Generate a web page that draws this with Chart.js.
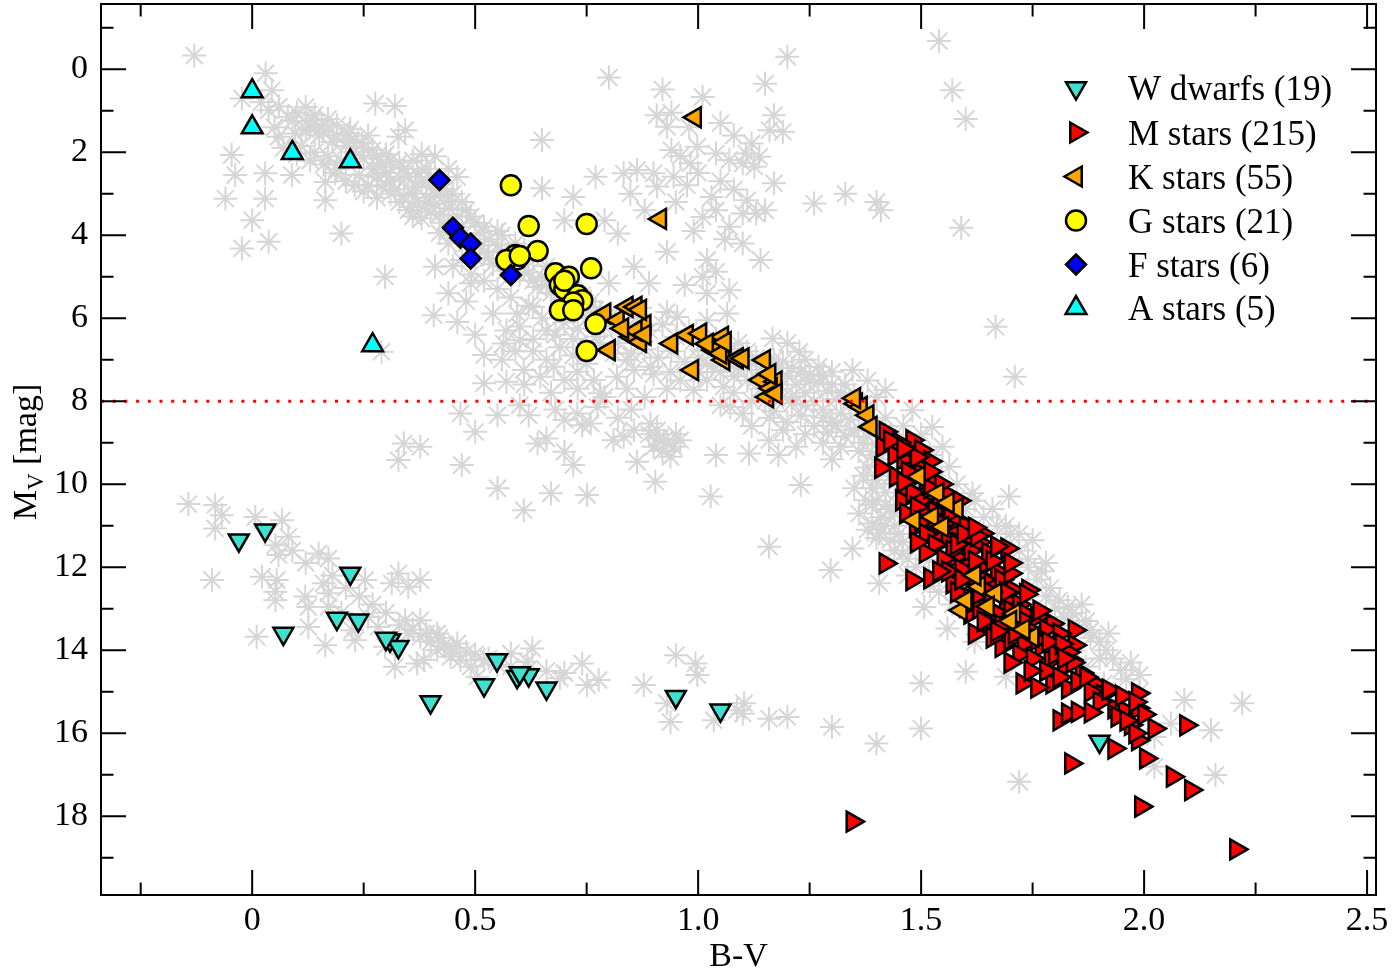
<!DOCTYPE html>
<html>
<head>
<meta charset="utf-8">
<script src="https://cdn.jsdelivr.net/npm/chart.js@4.4.0/dist/chart.umd.min.js"></script>
<style>
  html, body { margin: 0; padding: 0; background: #fff; }
  #wrap { width: 1392px; height: 973px; position: relative; }
</style>
</head>
<body>
<div id="wrap"><canvas id="hrd"></canvas></div>
<script>
// axis ranges and ticks
var xMin = -0.339, xMax = 2.52;
var yMin = -1.57, yMax = 19.9;
var xTicks = [0, 0.5, 1, 1.5, 2, 2.5];
var xMinor = [-0.25, 0.25, 0.75, 1.25, 1.75, 2.25];
var yTicks = [0, 2, 4, 6, 8, 10, 12, 14, 16, 18];
var yMinor = [-1, 1, 3, 5, 7, 9, 11, 13, 15, 17, 19];
var cutMag = 8;

// full sample (grey asterisks), [B-V, Mv]
var allStars = [
  [-0.13,-0.33],[0.03,0.10],[0.044,0.51],[-0.023,0.71],[0.276,0.83],[0.32,0.89],[0.037,0.99],[0.12,0.91],[0.08,1.15],[0.134,1.23],
  [0.156,1.39],[0.216,1.55],[0.246,1.79],[0.343,1.47],[0.328,1.63],[0.059,1.63],[-0.046,2.07],[-0.038,2.55],[0.029,2.51],[0.089,2.55],
  [-0.06,3.12],[0.029,3.12],[0.0,3.64],[-0.023,4.32],[0.037,4.16],[0.164,2.72],[0.186,2.51],[0.164,3.16],[0.20,3.96],[0.283,2.35],
  [0.29,2.83],[0.298,5.0],[0.365,2.83],[0.358,3.32],[0.126,1.31],[0.096,1.55],
  [0.10,1.05],[0.14,1.10],[0.17,1.20],[0.19,1.35],[0.12,1.45],[0.15,1.60],[0.18,1.75],[0.21,1.85],[0.11,1.85],[0.14,2.00],
  [0.17,2.10],[0.20,2.20],[0.23,2.00],[0.25,2.15],[0.27,2.40],[0.24,2.55],[0.21,2.70],[0.26,2.80],[0.28,2.60],[0.30,2.50],
  [0.31,2.70],[0.33,2.60],[0.32,2.90],[0.34,3.05],[0.36,3.00],[0.38,2.70],[0.40,2.85],[0.37,3.20],[0.39,3.10],[0.41,3.25],
  [0.43,3.05],[0.44,3.35],[0.42,3.50],[0.40,3.45],[0.35,3.40],[0.38,3.60],[0.45,3.20],[0.46,3.55],[0.48,3.40],[0.50,3.70],
  [0.47,3.80],[0.44,3.90],[0.42,3.95],[0.39,2.40],[0.36,2.20],[0.33,2.25],[0.30,2.05],[0.38,2.05],[0.41,2.10],[0.44,2.40],
  [0.46,2.60],[0.27,1.95],[0.22,1.45],[0.26,1.60],
  [0.02,0.80],[0.06,0.90],[0.09,1.25],[0.13,1.40],[0.16,1.50],[0.19,1.60],[0.22,1.70],[0.25,1.90],[0.28,2.10],[0.29,2.30],
  [0.31,2.20],[0.34,2.40],[0.35,2.60],[0.37,2.50],[0.40,2.60],[0.42,2.75],[0.43,2.90],[0.41,3.00],[0.39,3.30],[0.36,3.55],
  [0.33,3.20],[0.31,3.00],[0.28,3.10],[0.25,2.95],[0.23,2.80],[0.19,2.40],[0.16,2.30],[0.13,2.20],[0.10,2.05],[0.07,1.90],
  [0.05,1.40],[0.45,3.00],[0.47,3.20],[0.49,3.55],[0.43,3.70],[0.46,4.00],[0.48,4.20],[0.44,4.20],[0.52,3.80],[0.55,3.90],
  [0.51,3.95],[0.53,4.10],[0.55,4.25],[0.52,4.40],[0.50,4.55],[0.54,4.70],[0.57,4.85],[0.56,4.00],[0.59,4.20],[0.61,4.35],
  [0.63,4.55],[0.60,4.70],[0.62,4.90],[0.65,5.00],[0.66,4.75],[0.68,5.10],[0.64,5.25],[0.67,5.40],[0.70,5.55],[0.72,5.30],
  [0.74,5.45],[0.76,5.60],[0.73,5.75],[0.78,5.85],[0.75,6.00],[0.79,6.20],[0.77,6.45],[0.73,6.25],[0.70,6.10],[0.68,6.40],
  [0.65,6.00],[0.62,5.70],[0.58,5.50],[0.55,5.30],[0.52,5.10],[0.49,4.95],[0.47,4.60],[0.45,4.75],[0.41,4.76],[0.49,5.16],
  [0.80,5.16],[0.407,5.93],[0.46,6.09],[0.54,5.89],[0.594,5.89],[0.63,5.73],[0.52,6.89],[0.564,6.61],[0.60,6.53],[0.52,7.57],
  [0.57,7.53],[0.609,7.25],[0.646,7.41],[0.676,7.17],[0.70,7.49],[0.729,7.29],[0.766,7.49],[0.78,7.81],[0.818,7.41],[0.63,6.80],
  [0.66,7.00],[0.72,6.90],[0.75,7.10],[0.69,6.70],[0.60,6.20],[0.57,6.30],[0.50,6.40],[0.48,5.60],[0.44,5.40],
  [0.51,4.25],[0.53,4.55],[0.56,4.40],[0.58,4.65],[0.60,4.95],[0.63,5.10],[0.66,5.20],[0.69,5.35],[0.71,5.45],[0.74,5.70],
  [0.77,5.80],[0.80,6.00],[0.78,6.60],[0.75,6.70],[0.72,6.50],[0.66,6.30],[0.63,6.50],[0.59,6.80],[0.56,7.00],[0.61,7.60],
  [0.67,7.80],[0.73,7.70],[0.79,7.90],[0.84,7.70],[0.88,7.90],[0.93,7.70],[0.85,8.20],[0.82,8.40],
  [0.80,5.90],[0.83,6.10],[0.86,6.00],[0.89,6.30],[0.92,6.15],[0.95,6.45],[0.98,6.30],[1.01,6.60],[1.04,6.50],[1.07,6.75],
  [1.09,6.60],[0.82,6.60],[0.85,6.85],[0.88,6.75],[0.91,6.95],[0.94,6.80],[0.97,7.05],[1.00,6.95],[1.03,7.15],[1.06,7.00],
  [1.09,7.20],[0.90,7.35],[0.96,7.50],[1.00,7.30],[0.856,7.25],[0.893,7.17],[0.938,7.29],[0.99,7.73],[1.02,7.49],[1.057,7.65],
  [1.065,5.89],[1.02,6.05],[0.953,5.97],[0.84,7.00],[0.81,6.85],[0.87,5.75],[0.93,5.85],
  [1.10,6.90],[1.12,7.10],[1.14,7.25],[1.167,6.49],[1.227,6.81],[1.27,7.17],[1.30,7.29],[1.346,7.25],[1.42,7.73],[1.13,7.45],
  [1.16,7.60],[1.18,7.20],[1.20,7.40],[1.22,7.60],[1.24,7.80],[1.19,7.90],[1.21,8.05],[1.25,7.35],[1.27,7.55],[1.29,7.75],
  [1.31,7.95],[1.26,8.00],[1.28,8.20],[1.33,7.60],[1.35,7.85],[1.37,8.05],[1.32,8.30],[1.30,8.50],[1.34,8.45],[1.36,8.65],
  [1.33,8.85],[1.38,8.85],[1.40,9.05],[1.36,9.20],[1.15,8.00],[1.17,8.25],[1.23,8.35],[1.26,8.60],[1.29,8.75],[1.114,9.26],
  [1.159,8.94],[1.23,10.02],[1.10,8.30],[1.05,8.10],[1.12,8.60],[1.19,8.70],[1.072,8.14],[1.20,6.60],[1.24,7.00],[1.38,7.50],
  [1.40,7.90],
  [0.99,6.55],[1.02,6.80],[1.05,6.70],[1.08,6.90],[1.11,6.80],[1.13,6.95],[1.15,7.10],[1.17,7.00],[1.19,7.05],[1.21,7.20],
  [1.23,7.30],[1.25,7.50],[1.28,7.40],[1.30,7.60],[1.32,7.80],[1.34,8.00],[1.36,8.20],[1.38,8.40],[1.40,8.60],[1.42,8.40],
  [1.43,8.80],[1.39,9.30],[1.41,9.40],[1.37,9.00],[1.35,8.70],[1.31,8.60],[1.28,8.40],[1.24,8.10],[1.21,7.90],[1.18,7.70],
  [1.14,7.70],[1.11,7.50],[1.08,7.40],[1.05,7.30],[1.02,7.10],[1.08,7.80],[1.12,8.00],[1.16,8.40],[1.20,8.50],[1.24,8.80],
  [1.28,9.00],[1.32,9.10],[1.22,9.10],[1.18,9.30],[1.30,9.40],
  [1.48,8.22],[1.525,8.62],[1.548,9.10],[1.563,9.58],[1.615,10.22],[1.697,10.30],[1.75,11.35],[1.376,10.39],[1.361,10.71],[1.39,10.95],
  [1.406,11.19],[1.458,11.67],[1.488,11.99],[1.518,11.83],[1.346,11.55],[1.297,12.07],[1.406,12.39],[1.159,11.51],[1.38,9.60],[1.40,9.90],
  [1.42,10.20],[1.39,10.50],[1.43,10.60],[1.41,10.80],[1.44,11.00],[1.43,11.35],[1.45,9.50],[1.46,8.60],[1.50,8.80],[1.52,9.30],
  [1.53,9.80],[1.58,10.00],[1.60,10.60],[1.64,10.80],[1.67,11.00],[1.70,11.20],[1.72,11.60],[1.74,12.00],[1.76,12.30],[1.78,12.70],
  [1.80,13.00],[1.82,13.20],[1.85,13.40],[1.88,13.70],[1.829,12.96],[1.88,13.52],[1.915,14.00],[1.948,14.48],[1.97,14.30],[1.99,14.60],
  [1.90,14.20],[1.507,12.96],[1.559,13.48],[1.60,14.52],[1.69,14.64],[1.50,14.80],[1.54,12.60],[1.57,12.90],[1.52,12.45],[1.47,12.20],
  [1.37,9.80],[1.39,10.10],[1.40,10.40],[1.42,10.50],[1.44,10.70],[1.45,11.20],[1.46,11.40],[1.42,11.00],[1.40,11.30],[1.44,11.60],
  [1.47,11.80],[1.43,9.80],[1.46,10.30],[1.44,10.00],[1.35,10.10],[1.38,11.10],
  [1.62,10.40],[1.66,10.60],[1.69,11.00],[1.72,11.20],[1.74,11.80],[1.77,12.10],[1.79,12.50],[1.81,12.80],[1.84,13.10],[1.87,13.30],
  [1.90,13.80],[1.93,14.20],[1.96,14.70],[1.99,15.00],[1.86,12.90],[1.92,13.60],[1.78,11.90],
  [1.667,6.21],[1.71,7.41],[1.54,-0.68],[1.57,0.51],[1.60,1.20],[1.59,3.82],[2.09,15.20],[2.22,15.28],[2.15,15.93],[2.16,17.01],
  [2.06,15.77],[2.023,16.09],[2.023,16.81],[1.72,17.17],[1.50,15.89],[1.40,16.25],[1.30,15.85],[1.20,15.61],[1.159,15.65],[1.10,15.53],
  [1.103,15.28],
  [0.80,0.20],[0.92,0.49],[1.01,0.67],[0.907,1.11],[0.93,1.39],[0.94,1.95],[0.998,1.87],[1.04,2.03],[1.07,2.19],[0.983,2.27],
  [0.65,1.71],[0.77,2.59],[0.833,2.51],[0.863,2.43],[0.90,2.51],[0.945,2.59],[0.848,3.00],[0.908,2.83],[0.975,2.80],[1.03,3.08],
  [1.04,3.40],[1.01,3.56],[1.07,3.80],[0.72,3.08],[0.65,2.87],[0.70,3.64],[0.79,3.64],[0.82,3.96],[0.856,4.76],[1.01,5.00],
  [1.04,4.88],[1.07,5.33],[1.02,5.40],[0.89,5.16],[1.20,-0.30],[1.15,0.35],[1.17,1.11],[1.16,1.47],[1.19,1.51],[1.12,1.79],
  [1.107,2.03],[1.137,2.11],[1.126,2.35],[1.10,2.27],[1.17,2.75],[1.11,3.16],[1.10,3.48],[1.13,3.48],[1.15,3.40],[1.26,3.24],
  [1.33,3.00],[1.40,3.20],[1.41,3.40],[1.10,4.20],[1.14,4.60],[0.94,1.05],[0.98,1.40],[1.05,1.30],[1.08,1.60],[0.96,2.10],
  [1.00,2.50],[1.05,2.70],[1.08,2.90],[0.95,3.20],[0.88,3.40],[0.99,3.90],[1.06,4.10],[0.93,4.40],[1.02,4.60],[0.97,5.20],
  [0.467,8.30],[0.55,8.34],[0.50,8.74],[0.62,8.34],[0.64,9.02],[0.66,8.90],[0.70,9.22],[0.72,9.54],[0.729,8.30],[0.74,8.58],
  [0.759,8.54],[0.774,8.14],[0.81,8.94],[0.833,8.86],[0.856,8.70],[0.893,8.54],[0.908,8.70],[0.923,8.94],[0.945,9.10],[0.938,9.34],
  [0.863,9.46],[0.96,8.94],[1.04,9.30],[0.47,9.54],[0.55,10.10],[0.609,10.63],[0.67,10.22],[0.751,10.26],[0.904,9.94],[1.028,10.30],
  [0.377,9.10],[0.34,9.02],[0.328,9.42],[0.29,6.81],[0.60,8.10],[0.68,8.20],[0.70,8.45],[0.91,8.90],[0.93,9.00],[0.92,9.20],
  [0.95,8.80],[0.90,9.10],[0.89,8.80],
  [-0.143,10.48],[-0.083,10.50],[-0.068,10.75],[-0.083,11.07],[0.007,10.79],[0.067,10.87],[0.081,11.27],[0.052,11.47],[0.059,11.71],[-0.09,12.31],
  [0.022,12.23],[0.055,12.31],[0.052,12.59],[0.149,11.67],[0.171,11.79],[0.16,12.39],[0.171,12.63],[0.253,12.31],[0.313,12.39],[0.328,12.15],
  [0.35,12.47],[0.119,12.71],[0.01,13.68],[0.126,13.44],[0.164,13.88],[0.126,12.96],[0.171,12.96],[0.231,13.76],[0.224,13.52],[0.283,13.44],
  [0.298,13.92],[0.32,14.40],[0.343,13.28],[0.35,13.60],[0.052,12.80],[0.377,13.68],[0.385,14.24],[0.415,14.00],[0.445,14.16],[0.467,14.24],
  [0.49,14.40],[0.46,13.84],[0.505,14.64],[0.58,14.08],[0.628,13.96],[0.617,14.28],[0.69,14.68],[0.74,14.32],[0.751,14.84],[0.777,14.72],
  [0.878,14.84],[0.95,14.12],[0.994,14.32],[0.998,14.60],[0.93,15.28],[0.938,15.73],[1.035,15.69],[1.087,15.45],[0.377,13.28],[0.415,13.60],
  [0.37,14.32],[0.377,12.31],[0.40,13.80],[0.43,13.90],[0.50,14.10],[0.53,14.20],[0.20,13.10],[0.26,13.20],
  [0.09,11.60],[0.12,11.90],[0.18,12.20],[0.21,12.50],[0.24,12.70],[0.27,12.90],[0.30,13.10],[0.33,13.40],[0.36,13.50],[0.39,13.60],
  [0.42,13.70],[0.45,13.95],[0.48,14.05],[0.52,14.25],[0.55,14.35],[0.58,14.40],[0.62,14.45],[0.66,14.50],[0.70,14.55],
  [1.45,9.00],[1.47,9.60],[1.49,10.00],[1.52,10.40],[1.55,10.80],[1.58,11.20],[1.62,11.60],[1.66,12.00],[1.70,12.40],[1.73,12.80],
  [1.77,13.20],[1.80,13.60],[1.84,14.00],[1.87,14.40],[1.91,14.80],[1.95,15.20],[1.52,11.20],[1.56,11.60],[1.60,12.40],[1.64,13.00],
  [1.68,13.50],[1.72,14.00],[1.76,14.20],[1.62,13.80]
];

var wDwarfs = [
  [-0.03,11.35],[0.029,11.11],[0.22,12.15],[0.07,13.60],[0.19,13.24],[0.238,13.28],[0.309,13.76],[0.328,13.92],[0.40,15.25],[0.52,14.84],
  [0.549,14.24],[0.594,14.64],[0.62,14.60],[0.66,14.92],[0.95,15.12],[1.05,15.45],[1.90,16.20],[0.60,14.55],[0.30,13.72]
];

var mStars = [
  [1.42,8.74],[1.413,9.10],[1.48,8.94],[1.48,9.25],[1.50,9.18],[1.41,9.61],[1.443,9.82],[1.466,10.10],[1.457,10.39],[1.50,10.39],
  [1.51,9.90],[1.555,10.22],[1.466,10.70],[1.488,11.03],[1.51,10.70],[1.54,11.19],[1.57,11.11],[1.585,11.43],[1.637,11.19],[1.693,11.55],
  [1.42,11.91],[1.48,12.31],[1.52,12.27],[1.57,12.39],[1.60,11.91],[1.615,12.23],[1.652,11.91],[1.66,12.39],[1.705,12.55],[1.578,11.75],
  [1.61,13.12],[1.652,13.32],[1.62,13.60],[1.68,13.92],[1.74,13.28],[1.794,13.36],[1.727,14.80],[1.794,14.80],[1.81,15.69],[1.346,18.13],
  [1.844,13.52],[1.844,13.88],[1.836,14.24],[1.829,14.92],[1.889,14.80],[1.907,15.08],[1.933,15.40],[1.956,15.45],[1.986,15.04],[1.986,15.40],
  [1.986,16.17],[2.023,15.89],[2.094,15.81],[1.933,16.37],[2.004,16.61],[2.064,17.05],[2.105,17.37],[1.993,17.77],[2.206,18.80],[1.836,16.73],
  [1.829,15.53],[1.851,15.49],
  [1.45,9.00],[1.46,9.40],[1.49,9.55],[1.52,9.45],[1.47,9.70],[1.50,9.75],[1.53,9.95],[1.48,10.20],[1.52,10.10],[1.54,10.45],
  [1.49,10.55],[1.53,10.65],[1.56,10.55],[1.58,10.85],[1.50,10.90],[1.55,10.95],[1.60,11.00],[1.51,11.20],[1.56,11.30],[1.60,11.35],
  [1.63,11.40],[1.53,11.45],[1.57,11.60],[1.61,11.60],[1.65,11.65],[1.55,11.80],[1.59,12.05],[1.63,12.00],[1.67,12.10],[1.56,12.10],
  [1.62,12.50],[1.64,12.30],[1.68,12.30],[1.70,12.15],[1.58,12.60],[1.61,12.75],[1.65,12.70],[1.69,12.80],[1.72,12.90],[1.60,12.95],
  [1.63,13.00],[1.67,13.10],[1.70,13.05],[1.73,13.10],[1.76,13.20],[1.64,13.30],[1.68,13.40],[1.71,13.45],[1.75,13.55],[1.78,13.50],
  [1.81,13.60],[1.66,13.70],[1.70,13.75],[1.73,13.85],[1.77,13.90],[1.80,13.95],[1.83,14.05],[1.72,14.10],[1.75,14.20],[1.79,14.25],
  [1.82,14.40],[1.86,14.55],[1.78,14.50],[1.81,14.65],[1.85,14.75],[1.88,15.00],[1.76,14.90],[1.90,15.25],[1.94,15.60],[1.97,15.80],
  [1.98,16.00],[1.88,15.50],[1.69,12.60],[1.74,12.55],[1.66,11.85],[1.62,11.85],[1.58,11.45],[1.53,10.85],[1.46,9.95],[1.44,9.30],
  [1.43,8.95],[1.59,12.30],[1.63,12.65],[1.67,13.55],[1.71,13.60],[1.76,13.75],[1.80,14.10],[1.84,14.30],[1.87,14.65],[1.92,14.95],
  [1.95,15.10],[1.98,15.25],[2.00,15.55],[1.96,15.70],[1.54,12.10],[1.51,11.65],[1.49,11.40],[1.565,10.70],[1.595,11.20],[1.625,11.25],
  [1.655,12.60],[1.725,13.25],[1.765,13.05],[1.785,13.80],[1.815,13.85],[1.82,14.20],[1.745,14.50],[1.70,14.30],[1.735,12.65],[1.70,11.90],
  [1.67,11.50],[1.62,11.05],[1.585,10.40],[1.545,10.00],[1.52,9.70],[1.49,9.35],[1.46,9.15]
];

var kStars = [
  [0.993,1.16],[0.915,3.61],[0.79,5.89],[0.82,6.05],[0.84,5.73],[0.86,5.73],[0.88,6.17],[0.85,6.45],[0.87,6.57],[0.80,6.77],
  [0.94,6.61],[0.975,6.41],[1.005,6.37],[1.054,6.45],[1.035,6.77],[1.057,7.01],[0.987,7.25],[1.087,6.97],[1.10,6.97],[1.148,7.01],
  [1.14,7.49],[1.174,7.53],[1.163,7.69],[1.155,7.90],[1.174,7.82],[1.354,8.06],[1.365,8.14],[1.38,8.34],[1.387,8.62],[1.35,7.93],
  [1.495,9.82],[1.537,10.22],[1.58,10.59],[1.484,10.87],[1.525,10.79],[1.548,11.03],[1.63,12.47],[1.667,12.63],[1.589,13.04],[1.709,13.12],
  [1.75,13.68],[0.87,5.80],[0.86,6.30],[0.88,6.40],[1.02,6.62],[1.05,6.85],[1.06,6.58],[1.60,12.80],[1.65,12.95],[1.56,10.45],
  [1.70,13.30],[1.73,13.50],[1.62,12.20],[0.83,6.25],[1.16,7.35]
];

var gStars = [
  [0.58,2.80],[0.62,3.78],[0.75,3.73],[0.64,4.38],[0.59,4.48],[0.594,4.58],[0.57,4.60],[0.76,4.80],[0.68,4.92],[0.71,5.00],
  [0.69,5.20],[0.70,5.30],[0.73,5.45],[0.74,5.57],[0.72,5.62],[0.69,5.81],[0.72,5.81],[0.77,6.14],[0.75,6.79],[0.70,5.10],
  [0.60,4.50]
];

var fStars = [
  [0.42,2.67],[0.45,3.82],[0.467,4.06],[0.49,4.20],[0.49,4.56],[0.58,4.96]
];

var aStars = [
  [0.0,0.53],[0.0,1.40],[0.09,2.02],[0.22,2.22],[0.27,6.65]
];

var legendLabels = ['W dwarfs (19)', 'M stars (215)', 'K stars (55)', 'G stars (21)', 'F stars (6)', 'A stars (5)'];

function pts(arr) {
  return arr.map(function (p) { return { x: p[0], y: p[1] }; });
}

var serif = "'Liberation Serif', 'Times New Roman', Times, serif";
Chart.defaults.font.family = serif;
Chart.defaults.color = '#000';

// groups, in legend order (also drawing order: later ones on top)
var groups = [
  { label: legendLabels[0], data: wDwarfs, style: 'triangle', rot: 180, r: 11.5, color: '#40e0d0' },
  { label: legendLabels[1], data: mStars,  style: 'triangle', rot: 90,  r: 11.5, color: '#ff0000' },
  { label: legendLabels[2], data: kStars,  style: 'triangle', rot: 270, r: 11.5, color: '#ffa500' },
  { label: legendLabels[3], data: gStars,  style: 'circle',   rot: 0,   r: 10,   color: '#ffff00' },
  { label: legendLabels[4], data: fStars,  style: 'rectRot',  rot: 0,   r: 10,   color: '#0000ff' },
  { label: legendLabels[5], data: aStars,  style: 'triangle', rot: 0,   r: 12,   color: '#00ffff' }
];

var datasets = [{
  label: 'all',
  data: pts(allStars),
  pointStyle: 'star',
  pointRadius: 12,
  borderColor: '#d6d6d6',
  backgroundColor: '#d6d6d6',
  borderWidth: 2,
  order: 20
}];
groups.forEach(function (g, i) {
  datasets.push({
    label: g.label,
    data: pts(g.data),
    pointStyle: g.style,
    rotation: g.rot,
    pointRadius: g.r,
    backgroundColor: g.color,
    borderColor: '#000',
    borderWidth: 2.5,
    order: 10 - i
  });
});
datasets.push({
  type: 'line',
  label: 'cut',
  data: [{ x: xMin, y: cutMag }, { x: xMax, y: cutMag }],
  borderColor: '#ff0000',
  borderWidth: 3,
  borderDash: [3, 8.7],
  pointRadius: 0,
  fill: false,
  order: 0
});

function drawSymbol(ctx, g, x, y) {
  ctx.save();
  ctx.translate(x, y);
  ctx.rotate(g.rot * Math.PI / 180);
  ctx.beginPath();
  if (g.style === 'triangle') {
    for (var i = 0; i < 3; i++) {
      var a = i * 2 * Math.PI / 3;
      ctx.lineTo(g.r * Math.sin(a), -g.r * Math.cos(a));
    }
    ctx.closePath();
  } else if (g.style === 'circle') {
    ctx.arc(0, 0, g.r, 0, 2 * Math.PI);
  } else {
    ctx.moveTo(0, -g.r); ctx.lineTo(g.r, 0); ctx.lineTo(0, g.r); ctx.lineTo(-g.r, 0);
    ctx.closePath();
  }
  ctx.fillStyle = g.color;
  ctx.fill();
  ctx.lineWidth = 2.5;
  ctx.strokeStyle = '#000';
  ctx.stroke();
  ctx.restore();
}

var framePlugin = {
  id: 'frame',
  afterDraw: function (chart) {
    var ctx = chart.ctx, a = chart.chartArea;
    var xs = chart.scales.x, ys = chart.scales.y;
    ctx.save();
    ctx.strokeStyle = '#000';
    ctx.lineWidth = 2;
    ctx.strokeRect(a.left, a.top, a.right - a.left, a.bottom - a.top);
    function xt(vals, len) {
      vals.forEach(function (v) {
        var px = xs.getPixelForValue(v);
        ctx.beginPath();
        ctx.moveTo(px, a.bottom); ctx.lineTo(px, a.bottom - len);
        ctx.moveTo(px, a.top); ctx.lineTo(px, a.top + len);
        ctx.stroke();
      });
    }
    function yt(vals, len) {
      vals.forEach(function (v) {
        var py = ys.getPixelForValue(v);
        ctx.beginPath();
        ctx.moveTo(a.left, py); ctx.lineTo(a.left + len, py);
        ctx.moveTo(a.right, py); ctx.lineTo(a.right - len, py);
        ctx.stroke();
      });
    }
    xt(xTicks, 25); xt(xMinor, 12.5);
    yt(yTicks, 25); yt(yMinor, 12.5);

    // axis titles
    ctx.fillStyle = '#000';
    ctx.font = '34px ' + serif;
    ctx.textAlign = 'center';
    ctx.textBaseline = 'alphabetic';
    ctx.fillText('B-V', (a.left + a.right) / 2, 966);

    ctx.save();
    ctx.translate(36, 452);
    ctx.rotate(-Math.PI / 2);
    ctx.textAlign = 'left';
    var wM = ctx.measureText('M').width;
    ctx.font = '23px ' + serif;
    var wV = ctx.measureText('V').width;
    ctx.font = '34px ' + serif;
    var wRest = ctx.measureText(' [mag]').width;
    var x0 = -(wM + wV + wRest) / 2;
    ctx.fillText('M', x0, 0);
    ctx.font = '23px ' + serif;
    ctx.fillText('V', x0 + wM, 7);
    ctx.font = '34px ' + serif;
    ctx.fillText(' [mag]', x0 + wM + wV, 0);
    ctx.restore();

    // legend
    ctx.font = '35px ' + serif;
    ctx.textAlign = 'left';
    var rowY = [88, 132.5, 176.5, 220.5, 264.5, 308];
    groups.forEach(function (g, i) {
      drawSymbol(ctx, g, 1076, rowY[i]);
      ctx.fillStyle = '#000';
      ctx.fillText(g.label, 1128, rowY[i] + 12);
    });
    ctx.restore();
  }
};

function noPad(s) {
  s.paddingTop = 0; s.paddingBottom = 0; s.paddingLeft = 0; s.paddingRight = 0;
}

new Chart(document.getElementById('hrd'), {
  type: 'scatter',
  data: { datasets: datasets },
  options: {
    responsive: true,
    maintainAspectRatio: false,
    animation: false,
    events: [],
    layout: { autoPadding: false, padding: { top: 4, right: 16, left: 0, bottom: 0 } },
    plugins: { legend: { display: false }, tooltip: { enabled: false } },
    scales: {
      x: {
        type: 'linear',
        min: xMin, max: xMax,
        grid: { display: false, drawTicks: false },
        border: { display: false },
        afterBuildTicks: function (s) { s.ticks = xTicks.map(function (v) { return { value: v }; }); },
        afterFit: function (s) { s.height = 78; noPad(s); },
        ticks: { font: { size: 34 }, padding: 6, maxRotation: 0, autoSkip: false }
      },
      y: {
        type: 'linear',
        reverse: true,
        min: yMin, max: yMax,
        grid: { display: false, drawTicks: false },
        border: { display: false },
        afterBuildTicks: function (s) { s.ticks = yTicks.map(function (v) { return { value: v }; }); },
        afterFit: function (s) { s.width = 101; noPad(s); },
        ticks: { font: { size: 34 }, padding: 13, autoSkip: false }
      }
    }
  },
  plugins: [framePlugin]
});
</script>
</body>
</html>
